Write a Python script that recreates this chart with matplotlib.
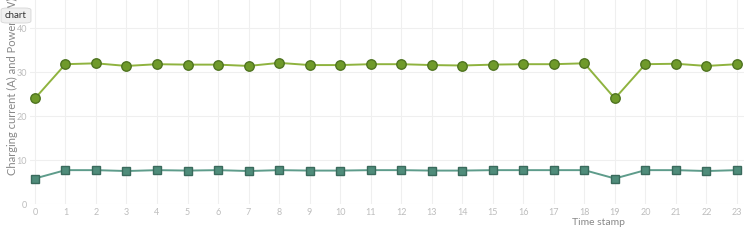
import matplotlib.pyplot as plt
from matplotlib.patches import FancyBboxPatch

hours = list(range(24))
power = [24.0, 31.8, 32.0, 31.4, 31.8, 31.7, 31.7, 31.4, 32.1, 31.6, 31.6, 31.8,
         31.8, 31.6, 31.5, 31.7, 31.8, 31.8, 32.0, 24.0, 31.8, 31.9, 31.4, 31.8]
current = [5.8, 7.7, 7.7, 7.5, 7.7, 7.6, 7.7, 7.5, 7.7, 7.6, 7.6, 7.7,
           7.7, 7.6, 7.6, 7.7, 7.7, 7.7, 7.7, 5.8, 7.7, 7.7, 7.5, 7.7]

plt.rcParams['font.family'] = ['Lato', 'DejaVu Sans']

fig = plt.figure(figsize=(7.44, 2.5), dpi=100)
ax = fig.add_axes([30 / 744, 46 / 250, 714 / 744, 204 / 250])

ax.plot(hours, power, color='#8fb33f', lw=1.4, marker='o', ms=6.8,
        mfc='#6f9a2a', mec='#4f7420', mew=1, zorder=3)
ax.plot(hours, current, color='#5e9c8b', lw=1.4, marker='s', ms=6,
        mfc='#4f8c7a', mec='#3a6a5c', mew=1, zorder=3)

ax.set_xlim(-0.16, 23.23)
ax.set_ylim(0, 46.4)
ax.set_xticks(hours)
ax.set_yticks([0, 10, 20, 30, 40])
ax.grid(True, color='#efefef', lw=0.8)
ax.set_axisbelow(True)
for s in ax.spines.values():
    s.set_visible(False)
ax.tick_params(length=0, labelsize=6.5, labelcolor='#bdbdbd', pad=3)
ax.tick_params(axis='y', pad=2)

ax.set_xlabel('Time stamp', fontsize=7.5, color='#888888')
ax.xaxis.set_label_coords((599 - 30) / 714, -0.07)
ax.set_ylabel('Charging current (A) and Power(kW)', fontsize=8, color='#888888',
              va='center', ha='left', rotation_mode='anchor')
ax.yaxis.set_label_coords(-18 / 714, 29 / 204)

box = FancyBboxPatch((4 / 744, 1 - 22 / 250), 24 / 744, 13 / 250,
                     boxstyle='round,pad=0.004,rounding_size=0.008',
                     transform=fig.transFigure, fc='#f0f0f0', ec='#d6d6d6', lw=0.6, zorder=10)
fig.patches.append(box)
fig.text(16 / 744, 1 - 15.5 / 250, 'chart', ha='center', va='center', fontsize=7,
         color='#333333', zorder=11)

fig.savefig('out.png', dpi=100)
